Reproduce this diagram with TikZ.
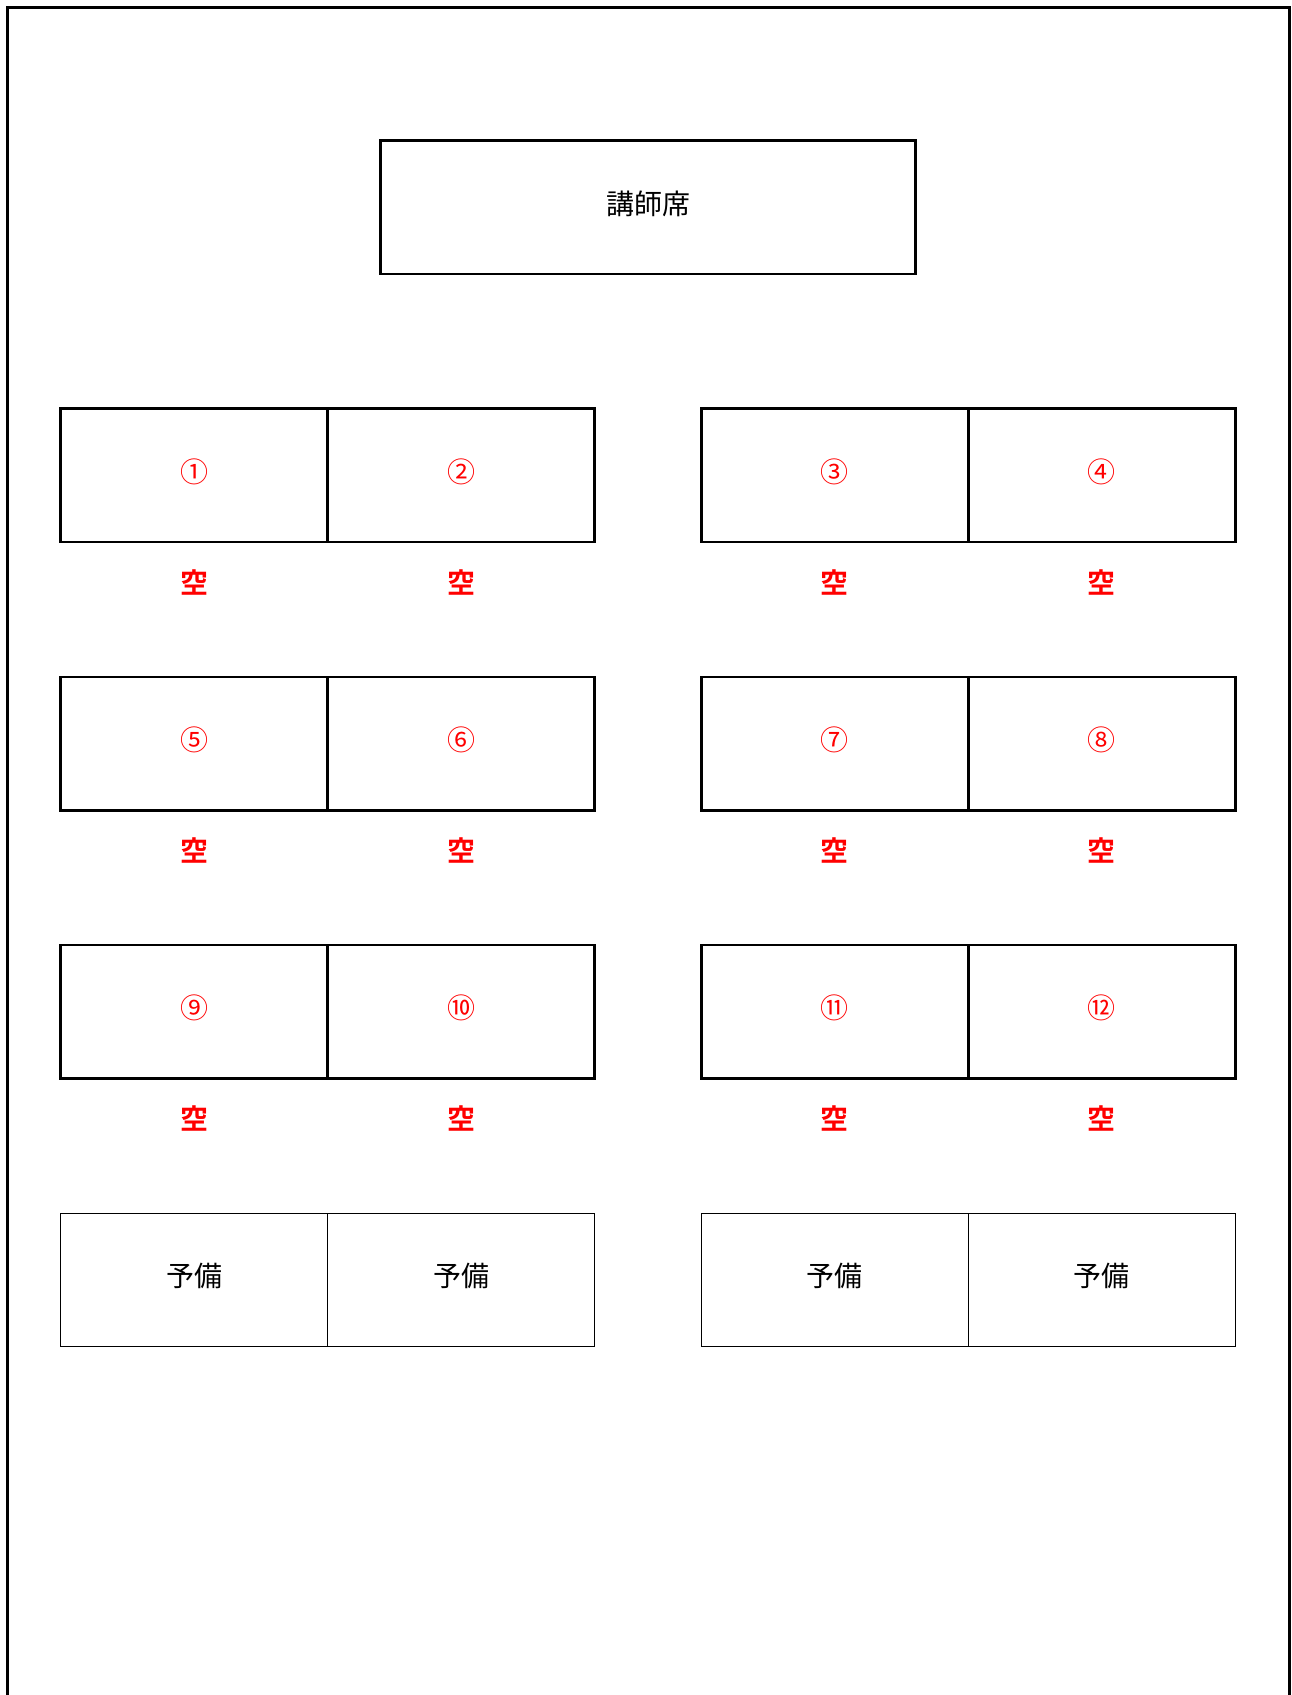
\documentclass[tikz,border=0pt]{standalone}
\usepackage{fontspec}
\newfontfamily\jp{Noto Sans CJK JP}[BoldFont={Noto Sans CJK JP Bold}]
\usetikzlibrary{positioning}
\definecolor{seatred}{RGB}{255,0,0}

\begin{document}
\begin{tikzpicture}[x=1pt,y=-1pt,font=\jp\fontsize{28}{34}\selectfont,
  desk/.style={draw,line width=2.7pt,outer sep=0pt,inner sep=0pt,minimum width=267pt,minimum height=133.3pt,text depth=10pt,text=seatred},
  spare/.style={desk,line width=1pt,text=black},
  vacant/.style={text=seatred,inner sep=0pt,font=\jp\bfseries\fontsize{28}{34}\selectfont}]
\useasboundingbox (0,0) rectangle (1292,1695);
\draw[line width=3pt] (7,1700) |- (1289.5,7) -- (1289.5,1700);
\node[desk,minimum width=535pt,text=black] (lectern) at (648,207.35) {講師席};
\foreach \row/\ya/\a/\b/\c/\d in {1/475.45/①/②/③/④,2/743.55/⑤/⑥/⑦/⑧,3/1011.65/⑨/⑩/⑪/⑫} {
  \node[desk] (d\row a) at (194.25,\ya) {\a};
  \node[desk,right=0pt of d\row a] (d\row b) {\b};
  \node[desk] (d\row c) at (834.75,\ya) {\c};
  \node[desk,right=0pt of d\row c] (d\row d) {\d};
  \foreach \s in {a,b,c,d}
    \node[vacant] (v\row\s) at ([yshift=-107.25pt]d\row\s.center) {空};
}
\node[spare] (r1) at (194.25,1279.75) {予備};
\node[spare,right=0pt of r1] (r2) {予備};
\node[spare] (r3) at (834.75,1279.75) {予備};
\node[spare,right=0pt of r3] (r4) {予備};
\end{tikzpicture}
\end{document}
